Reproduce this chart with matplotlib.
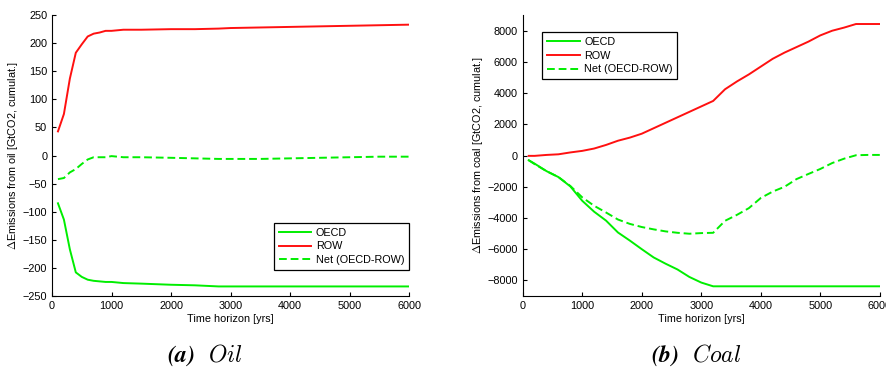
import matplotlib
matplotlib.use('Agg')
import matplotlib.pyplot as plt

plt.rcParams['font.family'] = ['Liberation Sans', 'DejaVu Sans']
plt.rcParams['mathtext.fontset'] = 'cm'

C_GREEN = '#00ee00'
C_RED = '#ff1010'

# ---- oil data (GtCO2, cumulative) ----
oil_years = [100, 200, 300, 400, 500, 600, 700, 800, 900, 1000, 1200, 1500,
             2000, 2400, 2800, 3000, 3500, 4000, 4500, 5000, 5500, 6000]
oil_oecd = [-85, -114, -167, -208, -216, -221, -223, -224, -225, -225, -227, -228,
            -230, -231, -233, -233, -233, -233, -233, -233, -233, -233]
oil_row = [43, 74, 137, 183, 198, 212, 217, 219, 222, 222, 224, 224,
           225, 225, 226, 227, 228, 229, 230, 231, 232, 233]
oil_net = [-42, -40, -30, -24, -15, -7, -3, -3, -3, -1, -3, -3,
           -4, -5, -6, -6, -6, -5, -4, -3, -2, -2]

# ---- coal data ----
coal_years = [100, 200, 400, 600, 800, 1000, 1200, 1400, 1600, 1800, 2000, 2200,
              2400, 2600, 2800, 3000, 3200, 3400, 3600, 3800, 4000, 4200, 4400,
              4600, 4800, 5000, 5200, 5400, 5600, 5800, 6000]
coal_oecd = [-300, -520, -1000, -1380, -1980, -2900, -3600, -4170, -4930, -5450, -6000, -6530,
             -6930, -7300, -7780, -8140, -8380, -8380, -8380, -8380, -8380, -8380, -8380,
             -8380, -8380, -8380, -8380, -8380, -8380, -8380, -8380]
coal_row = [-20, -20, 40, 80, 200, 300, 450, 680, 950, 1150, 1400, 1750,
            2100, 2450, 2800, 3150, 3500, 4250, 4750, 5200, 5700, 6200, 6600,
            6950, 7300, 7700, 8000, 8200, 8430, 8430, 8430]
coal_net = [-300, -550, -1000, -1380, -1950, -2680, -3220, -3650, -4100, -4380, -4580, -4730,
            -4860, -4950, -5010, -4970, -4950, -4180, -3800, -3370, -2720, -2310, -2000,
            -1510, -1180, -860, -480, -200, 20, 40, 40]

labels = ['OECD', 'ROW', 'Net (OECD-ROW)']

fig = plt.figure(figsize=(8.86, 3.76), dpi=100)
ax1 = fig.add_axes([0.0587, 0.2128, 0.403, 0.747])
ax2 = fig.add_axes([0.590, 0.2128, 0.403, 0.747])


def panel(ax, x, oecd, row, net, ylim, yticks, ylabel, leg_loc, leg_anchor):
    ax.plot(x, oecd, color=C_GREEN, lw=1.4, label=labels[0])
    ax.plot(x, row, color=C_RED, lw=1.4, label=labels[1])
    ax.plot(x, net, color=C_GREEN, lw=1.4, ls=(0, (4, 2)), label=labels[2])
    ax.set_xlim(0, 6000)
    ax.set_ylim(*ylim)
    ax.set_xticks(range(0, 6001, 1000))
    ax.set_yticks(yticks)
    ax.spines['top'].set_visible(False)
    ax.spines['right'].set_visible(False)
    ax.tick_params(direction='in', labelsize=7.8, length=3, width=0.8)
    ax.set_xlabel('Time horizon [yrs]', fontsize=7.8, labelpad=2)
    ax.set_ylabel(ylabel, fontsize=7.8, labelpad=2)
    leg = ax.legend(loc=leg_loc, bbox_to_anchor=leg_anchor,
                    fontsize=7.8, fancybox=False, edgecolor='black', framealpha=1,
                    handlelength=3.0, handletextpad=0.4, borderaxespad=0,
                    labelspacing=0.35, borderpad=0.45)
    leg.get_frame().set_linewidth(0.9)


panel(ax1, oil_years, oil_oecd, oil_row, oil_net, (-250, 250), range(-250, 251, 50),
      r'$\Delta$Emissions from oil [GtCO2, cumulat.]', 'lower right', (1.0, 0.0925))
panel(ax2, coal_years, coal_oecd, coal_row, coal_net, (-9000, 9000), range(-8000, 8001, 2000),
      r'$\Delta$Emissions from coal [GtCO2, cumulat.]', 'upper left', (0.055, 0.94))

fig.text(0.231, 0.055, r'$\mathbfit{(a)}\ \ \mathit{Oil}$', ha='center', va='center', fontsize=17)
fig.text(0.786, 0.055, r'$\mathbfit{(b)}\ \ \mathit{Coal}$', ha='center', va='center', fontsize=17)

fig.savefig('out.png', dpi=100, facecolor='white')
